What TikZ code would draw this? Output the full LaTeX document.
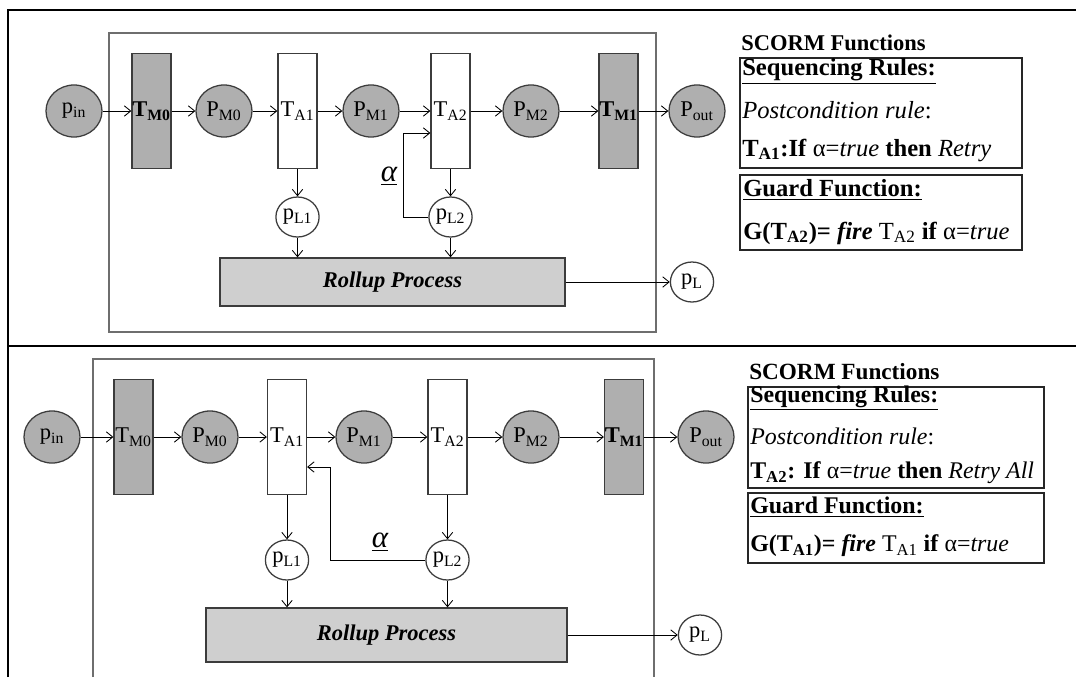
\documentclass[tikz,border=0pt]{standalone}
\usepackage{fontspec}
\setmainfont{Liberation Serif}
\usetikzlibrary{arrows.meta,positioning,shapes.geometric}
\definecolor{petline}{HTML}{3C3C3C}
\definecolor{petgray}{HTML}{AFAFAF}
\definecolor{petroll}{HTML}{CFCFCF}
\definecolor{petframe}{HTML}{6E6E6E}
\newcommand{\petlabel}{\fontsize{16}{18}\selectfont}
\newcommand{\petsub}[2]{#1\textsubscript{#2}}
\tikzset{
  netplace/.style={draw=petline,ellipse,fill=petgray,line width=0.9pt,
    minimum width=1.4cm,minimum height=1.3cm,inner sep=0pt,font=\petlabel},
  logplace/.style={netplace,fill=white,minimum width=1.08cm,minimum height=1cm},
  nettrans/.style={draw=petline,rectangle,fill=white,line width=0.9pt,
    minimum width=0.975cm,minimum height=2.875cm,inner sep=0pt,font=\petlabel},
  mgrtrans/.style={nettrans,fill=petgray},
  rollbox/.style={draw=petline,rectangle,fill=petroll,line width=0.9pt,inner sep=0pt,
    font=\petlabel\bfseries\itshape},
  rulebox/.style={draw=black!85,rectangle,line width=0.9pt,inner sep=0pt},
  ruletext/.style={anchor=west,inner sep=0pt},
  condlabel/.style={font=\fontsize{22}{24}\selectfont\itshape,inner sep=0pt},
  netarc/.style={draw=black,line width=0.6pt,-{Straight Barb[length=1.6mm,width=2.6mm]}},
}
\begin{document}
\begin{tikzpicture}[x=0.025cm,y=-0.025cm]
  \useasboundingbox (0,0) rectangle (1076,677);
  % table frame
  \draw[line width=1.8pt] (8,677) -- (8,10) -- (1076,10);
  \draw[line width=1.8pt] (8,346) -- (1076,346);

  % upper net: retry of T_A1
  \draw[draw=petframe,line width=1.4pt] (109,33) rectangle (656,332);
  \node[netplace] (pin) at (74,111) {\petsub{p}{in}};
  \node[mgrtrans] (tm0) at (151.5,111) {\textbf{\petsub{T}{M0}}};
  \node[netplace] (pm0) at (224,111) {\petsub{P}{M0}};
  \node[nettrans] (ta1) at (297.5,111) {\petsub{T}{A1}};
  \node[netplace] (pm1) at (371,111) {\petsub{P}{M1}};
  \node[nettrans] (ta2) at (450.5,111) {\petsub{T}{A2}};
  \node[netplace] (pm2) at (531,111) {\petsub{P}{M2}};
  \node[mgrtrans] (tm1) at (618.5,111) {\textbf{\petsub{T}{M1}}};
  \node[netplace] (pout) at (697,111) {\petsub{P}{out}};
  \node[logplace] (pl1) at (297.5,217) {\petsub{p}{L1}};
  \node[logplace] (pl2) at (450.5,217) {\petsub{p}{L2}};
  \node[rollbox,minimum width=8.625cm,minimum height=1.2cm] (roll) at (392.5,282) {Rollup Process};
  \node[logplace] (pl) at (692,282) {\petsub{p}{L}};
  \node[condlabel] (alpha) at (389,176) {\underline{α}};
  \coordinate (fbtop) at (403,133);
  \draw[netarc] (pin) -- (tm0);
  \draw[netarc] (tm0) -- (pm0);
  \draw[netarc] (pm0) -- (ta1);
  \draw[netarc] (ta1) -- (pm1);
  \draw[netarc] (pm1) -- (ta2);
  \draw[netarc] (ta2) -- (pm2);
  \draw[netarc] (pm2) -- (tm1);
  \draw[netarc] (tm1) -- (pout);
  \draw[netarc] (ta1) -- (pl1);
  \draw[netarc] (ta2) -- (pl2);
  \draw[netarc] (pl1.south) -- (pl1.south |- roll.north);
  \draw[netarc] (pl2.south) -- (pl2.south |- roll.north);
  \draw[netarc] (roll.east) -- (pl.west);
  \draw[netarc] (pl2.west) -| (fbtop) -- (ta2.west |- fbtop);

  % upper SCORM functions
  \node[ruletext,font=\fontsize{16}{18}\selectfont\bfseries] (scormA) at (741,43) {SCORM Functions};
  \node[rulebox,minimum width=7.05cm,minimum height=2.75cm] (seqA) at (881,113) {};
  \node[rulebox,minimum width=7.05cm,minimum height=1.875cm] (grdA) at (881,212.5) {};
  \begin{scope}[font=\fontsize{17.5}{20}\selectfont]
    \node[ruletext] (seqtitA) at (742,71) {\textbf{\underline{Sequencing Rules:}}};
    \node[ruletext] (postA) at (742,110) {\textit{Postcondition rule}:};
    \node[ruletext] (ruleA) at (742,150) {\textbf{\petsub{T}{A1}:If} α=\textit{true} \textbf{then} \textit{Retry}};
    \node[ruletext] (grdtitA) at (743,190) {\textbf{\underline{Guard Function:}}};
    \node[ruletext] (guardA) at (743,233) {\textbf{G(\petsub{T}{A2})= \textit{fire}} \petsub{T}{A2} \textbf{if} α=\textit{true}};
  \end{scope}

  % lower net: retry all from T_A2
  \draw[draw=petframe,line width=1.4pt] (93,677) -- (93,359) -- (654,359) -- (654,677);
  \node[netplace] (pinb) at (52,437) {\petsub{p}{in}};
  \node[mgrtrans] (tm0b) at (133.5,437) {\petsub{T}{M0}};
  \node[netplace] (pm0b) at (210,437) {\petsub{P}{M0}};
  \node[nettrans] (ta1b) at (287,437) {\petsub{T}{A1}};
  \node[netplace] (pm1b) at (364,437) {\petsub{P}{M1}};
  \node[nettrans] (ta2b) at (447.5,437) {\petsub{T}{A2}};
  \node[netplace] (pm2b) at (531,437) {\petsub{P}{M2}};
  \node[mgrtrans] (tm1b) at (624,437) {\textbf{\petsub{T}{M1}}};
  \node[netplace] (poutb) at (706,437) {\petsub{P}{out}};
  \node[logplace] (pl1b) at (287,560) {\petsub{p}{L1}};
  \node[logplace] (pl2b) at (447.5,560) {\petsub{p}{L2}};
  \node[rollbox,minimum width=9.025cm,minimum height=1.35cm] (rollb) at (386.5,635) {Rollup Process};
  \node[logplace] (plb) at (700,635) {\petsub{p}{L}};
  \node[condlabel] (alphab) at (380,542) {\underline{α}};
  \coordinate (fbbend) at (330,467);
  \draw[netarc] (pinb) -- (tm0b);
  \draw[netarc] (tm0b) -- (pm0b);
  \draw[netarc] (pm0b) -- (ta1b);
  \draw[netarc] (ta1b) -- (pm1b);
  \draw[netarc] (pm1b) -- (ta2b);
  \draw[netarc] (ta2b) -- (pm2b);
  \draw[netarc] (pm2b) -- (tm1b);
  \draw[netarc] (tm1b) -- (poutb);
  \draw[netarc] (ta1b) -- (pl1b);
  \draw[netarc] (ta2b) -- (pl2b);
  \draw[netarc] (pl1b.south) -- (pl1b.south |- rollb.north);
  \draw[netarc] (pl2b.south) -- (pl2b.south |- rollb.north);
  \draw[netarc] (rollb.east) -- (plb.west);
  \draw[netarc] (pl2b.west) -| (fbbend) -- (ta1b.east |- fbbend);

  % lower SCORM functions
  \node[ruletext,font=\fontsize{16.5}{18}\selectfont\bfseries] (scormB) at (749,372) {SCORM Functions};
  \node[rulebox,minimum width=7.4cm,minimum height=2.525cm] (seqB) at (896,437.5) {};
  \node[rulebox,minimum width=7.4cm,minimum height=1.75cm] (grdB) at (896,528) {};
  \begin{scope}[font=\fontsize{17}{20}\selectfont]
    \node[ruletext] (seqtitB) at (750,398) {\textbf{\underline{Sequencing Rules:}}};
    \node[ruletext] (postB) at (750,436) {\textit{Postcondition rule}:};
    \node[ruletext] (ruleB) at (750,473) {\textbf{\petsub{T}{A2}: If} α=\textit{true} \textbf{then} \textit{Retry All}};
    \node[ruletext] (grdtitB) at (750,507) {\textbf{\underline{Guard Function:}}};
    \node[ruletext] (guardB) at (750,546) {\textbf{G(\petsub{T}{A1})= \textit{fire}} \petsub{T}{A1} \textbf{if} α=\textit{true}};
  \end{scope}
\end{tikzpicture}
\end{document}
